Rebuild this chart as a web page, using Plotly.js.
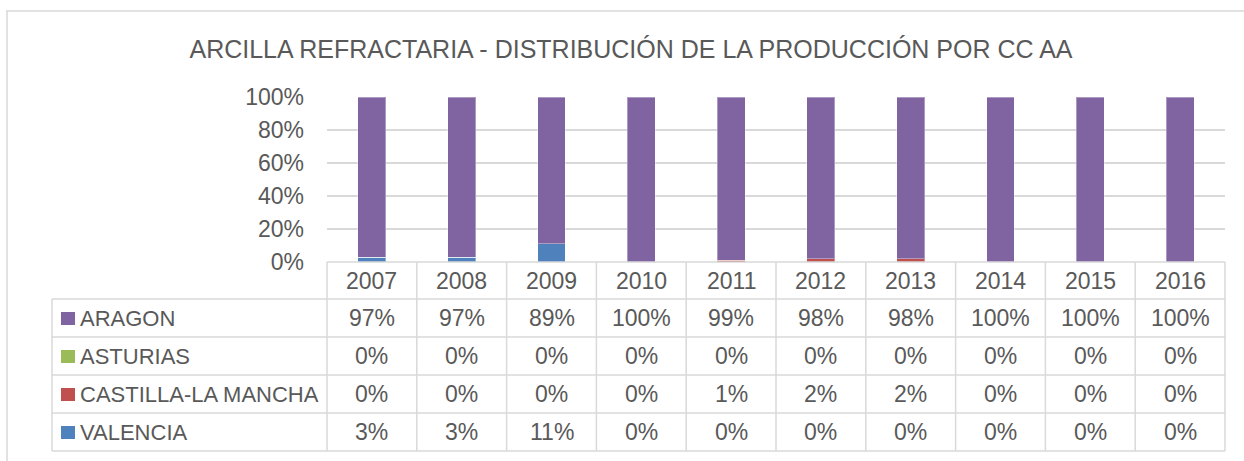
<!DOCTYPE html>
<html>
<head>
<meta charset="utf-8">
<script src="https://cdn.plot.ly/plotly-3.0.1.min.js"></script>
<style>html,body{margin:0;padding:0;background:#fff;}#chart{width:1244px;height:461px;}</style>
</head>
<body>
<div id="chart"></div>
<script>
// ---- data ----
const years = ['2007','2008','2009','2010','2011','2012','2013','2014','2015','2016'];
const aragon   = [97, 97, 89, 100, 99, 98, 98, 100, 100, 100];
const asturias = [0, 0, 0, 0, 0, 0, 0, 0, 0, 0];
const castilla = [0, 0, 0, 0, 1, 2, 2, 0, 0, 0];
const valencia = [3, 3, 11, 0, 0, 0, 0, 0, 0, 0];
const seriesNames = ['ARAGON', 'ASTURIAS', 'CASTILLA-LA MANCHA', 'VALENCIA'];
const yTicks = [0, 20, 40, 60, 80, 100];
const titleText = 'ARCILLA REFRACTARIA - DISTRIBUCIÓN DE LA PRODUCCIÓN POR CC AA';

// ---- styles ----
const colors = ['#8064A2', '#9BBB59', '#C0504D', '#4F81BD'];
const seriesValues = [aragon, asturias, castilla, valencia];
const FONT = '"Liberation Sans", Arial, sans-serif';
const TXT = '#595959';
const GRID = '#D9D9D9';

const W = 1244, H = 461;
const PL = 327, PR = 1225, PT = 97, PB = 262;
const pw = PR - PL, ph = PB - PT;
const px = x => (x - PL) / pw;
const py = y => (PB - y) / ph;
const colCenter = j => (j + 0.5) / years.length; // paper x of category j

// bars: bottom to top Valencia, Castilla, Asturias, Aragon
const traces = [];
for (let i = seriesNames.length - 1; i >= 0; i--) {
  traces.push({
    type: 'bar',
    name: seriesNames[i],
    x: years,
    y: seriesValues[i],
    marker: {color: colors[i], line: {color: 'rgba(255,255,255,0.35)', width: 1}},
    hoverinfo: 'skip'
  });
}

// table geometry
const rowLines = [262, 299, 337, 375, 413, 451];
const tableLeft = 52;
const shapes = [];
const annotations = [];

rowLines.forEach((y, k) => {
  shapes.push({type: 'line', xref: 'paper', yref: 'paper',
    x0: px(k === 0 ? PL : tableLeft), x1: px(PR), y0: py(y), y1: py(y),
    line: {color: GRID, width: 1.5}});
});
for (let j = 0; j <= years.length; j++) {
  shapes.push({type: 'line', xref: 'paper', yref: 'paper',
    x0: j / years.length, x1: j / years.length, y0: py(rowLines[0]), y1: py(rowLines[rowLines.length - 1]),
    line: {color: GRID, width: 1.5}});
}
shapes.push({type: 'line', xref: 'paper', yref: 'paper',
  x0: px(tableLeft), x1: px(tableLeft), y0: py(rowLines[1]), y1: py(rowLines[rowLines.length - 1]),
  line: {color: GRID, width: 1.5}});
shapes.push({type: 'rect', xref: 'paper', yref: 'paper',
  x0: px(7), x1: px(1252), y0: py(11), y1: py(475),
  line: {color: GRID, width: 1.5}, fillcolor: 'rgba(0,0,0,0)', layer: 'below'});

// header years
years.forEach((yr, j) => {
  annotations.push({xref: 'paper', yref: 'paper', x: colCenter(j), y: py((rowLines[0] + rowLines[1]) / 2),
    text: yr, showarrow: false, xanchor: 'center', yanchor: 'middle',
    font: {family: FONT, size: 23, color: TXT}});
});
// rows
seriesNames.forEach((name, i) => {
  const yc = (rowLines[i + 1] + rowLines[i + 2]) / 2;
  shapes.push({type: 'rect', xref: 'paper', yref: 'paper',
    x0: px(61), x1: px(75), y0: py(yc - 6), y1: py(yc + 7),
    fillcolor: colors[i], line: {width: 0}});
  annotations.push({xref: 'paper', yref: 'paper', x: px(78), y: py(yc),
    text: name, showarrow: false, xanchor: 'left', yanchor: 'middle',
    font: {family: FONT, size: 22, color: TXT}});
  seriesValues[i].forEach((v, j) => {
    annotations.push({xref: 'paper', yref: 'paper', x: colCenter(j), y: py(yc),
      text: v + '%', showarrow: false, xanchor: 'center', yanchor: 'middle',
      font: {family: FONT, size: 23, color: TXT}});
  });
});

const layout = {
  width: W, height: H,
  margin: {l: PL, r: W - PR, t: PT, b: H - PB, pad: 0},
  paper_bgcolor: '#fff', plot_bgcolor: '#fff',
  barmode: 'stack',
  bargap: 0.69,
  showlegend: false,
  title: {text: titleText, xref: 'container', yref: 'container',
    x: 631 / W, y: 1 - 49 / H, xanchor: 'center', yanchor: 'middle',
    font: {family: FONT, size: 25, color: TXT}},
  xaxis: {type: 'category', showticklabels: false, showgrid: false, zeroline: false,
    showline: false, ticks: '', range: [-0.5, years.length - 0.5], fixedrange: true},
  yaxis: {range: [0, 100], tickvals: yTicks, ticktext: yTicks.map(t => t + '%'),
    showgrid: true, gridcolor: GRID, gridwidth: 1.5, zeroline: false, showline: false,
    ticks: '', ticklabelstandoff: 22,
    tickfont: {family: FONT, size: 23, color: TXT}, fixedrange: true},
  shapes: shapes,
  annotations: annotations
};

Plotly.newPlot('chart', traces, layout, {staticPlot: true, displayModeBar: false});
</script>
</body>
</html>
